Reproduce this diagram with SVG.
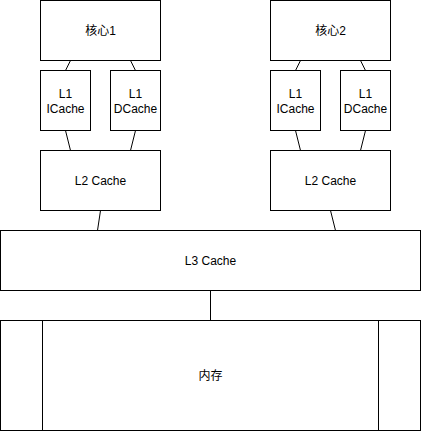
<svg xmlns="http://www.w3.org/2000/svg" width="421" height="431" viewBox="0 0 421 431">
<style>
.box{fill:#fff;stroke:#000;stroke-width:1}
.t{font-family:"Liberation Sans","Noto Sans CJK SC",Arial,sans-serif;font-size:12px;fill:#000;text-anchor:middle}
.e{stroke:#000;stroke-width:1;fill:none}
</style>
<rect width="421" height="431" fill="#fff"/>
<g id="connectors">
<line class="e" x1="70.5" y1="60.5" x2="65.5" y2="70.5"/>
<line class="e" x1="130.5" y1="60.5" x2="135.5" y2="70.5"/>
<line class="e" x1="65.5" y1="130.5" x2="70.5" y2="150.5"/>
<line class="e" x1="135.5" y1="130.5" x2="130.5" y2="150.5"/>
<line class="e" x1="300.5" y1="60.5" x2="295.5" y2="70.5"/>
<line class="e" x1="360.5" y1="60.5" x2="365.5" y2="70.5"/>
<line class="e" x1="295.5" y1="130.5" x2="300.5" y2="150.5"/>
<line class="e" x1="365.5" y1="130.5" x2="360.5" y2="150.5"/>
<line class="e" x1="100.5" y1="210.5" x2="97.5" y2="230.5"/>
<line class="e" x1="330.5" y1="210.5" x2="335.5" y2="230.5"/>
<line class="e" x1="210.5" y1="290.5" x2="210.5" y2="320.5"/>
</g>
<g id="core1">
<rect class="box" x="40.5" y="0.5" width="120" height="60"/>
<text class="t" x="100.5" y="34.5">核心1</text>
</g>
<g id="l1i-1">
<rect class="box" x="40.5" y="70.5" width="50" height="60"/>
<text class="t" x="65.5" y="97.5">L1</text>
<text class="t" x="65.5" y="112.5">ICache</text>
</g>
<g id="l1d-1">
<rect class="box" x="110.5" y="70.5" width="50" height="60"/>
<text class="t" x="135.5" y="97.5">L1</text>
<text class="t" x="135.5" y="112.5">DCache</text>
</g>
<g id="l2-1">
<rect class="box" x="40.5" y="150.5" width="120" height="60"/>
<text class="t" x="100.5" y="184.5">L2 Cache</text>
</g>
<g id="core2">
<rect class="box" x="270.5" y="0.5" width="120" height="60"/>
<text class="t" x="330.5" y="34.5">核心2</text>
</g>
<g id="l1i-2">
<rect class="box" x="270.5" y="70.5" width="50" height="60"/>
<text class="t" x="295.5" y="97.5">L1</text>
<text class="t" x="295.5" y="112.5">ICache</text>
</g>
<g id="l1d-2">
<rect class="box" x="340.5" y="70.5" width="50" height="60"/>
<text class="t" x="365.5" y="97.5">L1</text>
<text class="t" x="365.5" y="112.5">DCache</text>
</g>
<g id="l2-2">
<rect class="box" x="270.5" y="150.5" width="120" height="60"/>
<text class="t" x="330.5" y="184.5">L2 Cache</text>
</g>
<g id="l3">
<rect class="box" x="0.5" y="230.5" width="420" height="60"/>
<text class="t" x="210.5" y="264.5">L3 Cache</text>
</g>
<g id="memory">
<rect class="box" x="0.5" y="320.5" width="420" height="110"/>
<line class="e" x1="42.5" y1="320.5" x2="42.5" y2="430.5"/>
<line class="e" x1="378.5" y1="320.5" x2="378.5" y2="430.5"/>
<text class="t" x="210.5" y="379.5">内存</text>
</g>
</svg>
